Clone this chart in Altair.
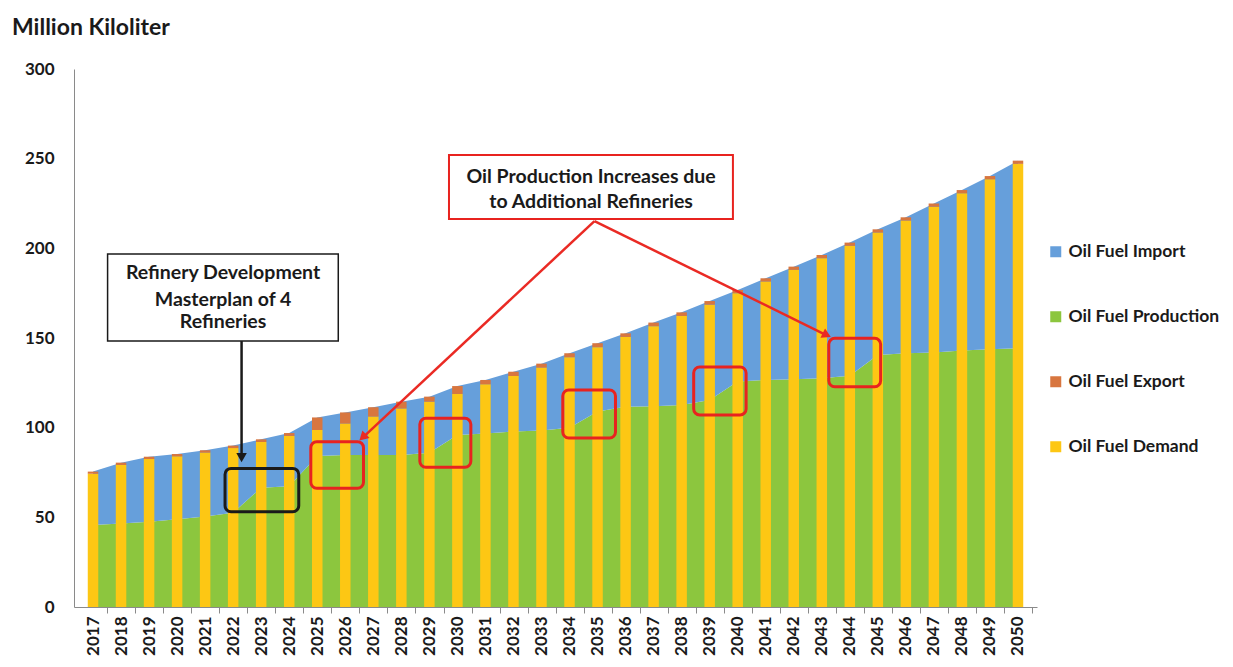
import altair as alt
import pandas as pd

# ---------------- data (million kiloliter) ----------------
years = list(range(2017, 2051))

demand = [74.3, 79.2, 82.5, 84.0, 86.1, 88.6, 92.0, 95.4, 98.7, 102.3,
          106.2, 110.7, 114.5, 118.8, 124.2, 128.8, 133.5, 139.3, 144.9, 150.6,
          156.6, 162.3, 168.6, 175.0, 181.5, 188.0, 194.5, 201.4, 208.8, 215.5,
          223.2, 230.7, 238.5, 247.1]

export = [1.2, 1.3, 1.3, 1.3, 1.3, 1.4, 1.5, 1.6, 7.0, 6.2,
          5.2, 3.8, 2.8, 4.4, 2.4, 2.4, 2.2, 2.2, 2.2, 2.0,
          2.0, 2.0, 2.0, 1.8, 1.8, 1.8, 1.8, 1.8, 1.8, 1.8,
          1.8, 1.8, 1.8, 1.8]

production = [45.7, 46.6, 47.6, 48.9, 50.4, 52.6, 66.5, 67.4, 84.2, 84.8,
              84.8, 84.8, 86.0, 95.9, 96.8, 97.8, 98.4, 100.0, 109.0, 111.7,
              111.9, 112.6, 115.4, 125.7, 126.6, 127.0, 127.5, 129.0, 140.5, 141.5,
              141.9, 143.0, 143.7, 144.3]

imports = [29.8, 33.9, 36.2, 36.4, 37.0, 37.4, 27.0, 29.6, 21.5, 23.7,
           26.6, 29.7, 31.3, 27.3, 29.8, 33.4, 37.3, 41.5, 38.1, 40.9,
           46.7, 51.7, 55.2, 51.1, 56.7, 62.8, 68.8, 74.2, 70.1, 75.8,
           83.1, 89.5, 96.6, 104.6]

series_names = ["Oil Fuel Import", "Oil Fuel Production", "Oil Fuel Export", "Oil Fuel Demand"]
series_colors = ["#669fdb", "#8cc63e", "#d8763f", "#fdc714"]

y_ticks = [0, 50, 100, 150, 200, 250, 300]
y_title = "Million Kiloliter"

# ---------------- tables ----------------
area_rows = []
for yr, p, im in zip(years, production, imports):
    area_rows.append({"year": yr, "series": "Oil Fuel Production", "lo": 0.0, "hi": p})
    area_rows.append({"year": yr, "series": "Oil Fuel Import", "lo": p, "hi": p + im})
area_df = pd.DataFrame(area_rows)

bar_rows = []
for yr, d, e in zip(years, demand, export):
    bar_rows.append({"year": yr, "series": "Oil Fuel Demand", "lo": 0.0, "hi": d})
    bar_rows.append({"year": yr, "series": "Oil Fuel Export", "lo": d, "hi": d + e})
bar_df = pd.DataFrame(bar_rows)

W, H = 963, 538
band = W / len(years)
FONT = "Lato"

xscale = alt.Scale(domain=[years[0] - 0.5, years[-1] + 0.5], nice=False, zero=False)
yscale = alt.Scale(domain=[0, 300], nice=False)

xaxis = alt.Axis(values=years, format="d", labelAngle=270, labelFont=FONT,
                 labelFontWeight="bold", labelFontSize=17, labelColor="#1a1a1a",
                 tickSize=6, tickColor="#8a8a8a", domainColor="#8a8a8a",
                 tickOffset=band / 2, labelOffset=-band / 2, labelPadding=3,
                 labelOverlap=False, labelFlush=False, grid=False, title=None)
yaxis = alt.Axis(values=y_ticks, labelFont=FONT, labelFontWeight="bold",
                 labelFontSize=17, labelColor="#1a1a1a", domainColor="#8a8a8a",
                 ticks=False, grid=False, title=None, labelPadding=20)


def X(f):
    return alt.X(f, type="quantitative", scale=xscale, axis=xaxis)


def Y(f):
    return alt.Y(f, type="quantitative", scale=yscale, axis=yaxis)


color = alt.Color("series:N",
                  scale=alt.Scale(domain=series_names, range=series_colors),
                  legend=alt.Legend(title=None, orient="none", legendX=973, legendY=174,
                                    direction="vertical", symbolType="square",
                                    symbolSize=121, symbolStrokeWidth=0,
                                    labelFont=FONT, labelFontWeight="bold",
                                    labelFontSize=17.5, labelColor="#1a1a1a",
                                    labelLimit=400, labelOffset=4, rowPadding=46,
                                    padding=0))

areas = alt.Chart(area_df).mark_area(opacity=1, interpolate="linear").encode(
    x=X("year"), y=Y("lo"), y2="hi", color=color)

bars = alt.Chart(bar_df).mark_bar(size=10.5).encode(
    x=X("year"), y=Y("lo"), y2="hi", color=color)

# ---------------- annotations (in data units) ----------------
black_box = pd.DataFrame([{"x0": 2017.52, "x1": 2025.75, "y0": 148.3, "y1": 196.8}])
red_box = pd.DataFrame([{"x0": 2029.70, "x1": 2039.83, "y0": 216.4, "y1": 252.0}])
black_focus = pd.DataFrame([{"x0": 2021.71, "x1": 2024.34, "y0": 53.1, "y1": 77.3}])
red_focus = pd.DataFrame([
    {"x0": 2024.77, "x1": 2026.65, "y0": 66.2, "y1": 92.2},
    {"x0": 2028.66, "x1": 2030.48, "y0": 77.9, "y1": 105.2},
    {"x0": 2033.76, "x1": 2035.64, "y0": 94.2, "y1": 121.0},
    {"x0": 2038.43, "x1": 2040.30, "y0": 107.1, "y1": 133.8},
    {"x0": 2043.25, "x1": 2045.10, "y0": 122.8, "y1": 149.8},
])


def boxes(df, stroke, sw, fill, radius):
    kw = dict(stroke=stroke, strokeWidth=sw, cornerRadius=radius)
    if fill is None:
        kw["fillOpacity"] = 0
        kw["fill"] = "white"
    else:
        kw["fill"] = fill
    return alt.Chart(df).mark_rect(**kw).encode(
        x=X("x0"), x2="x1", y=Y("y0"), y2="y1")


black_line = pd.DataFrame([{"x0": 2022.30, "y0": 148.3, "x1": 2022.30, "y1": 84.5}])
red_lines = pd.DataFrame([
    {"x0": 2034.89, "y0": 215.2, "x1": 2026.66, "y1": 95.0},
    {"x0": 2034.89, "y0": 215.2, "x1": 2043.14, "y1": 151.8},
])
black_head = pd.DataFrame([{"x": 2022.30, "y": 83.3, "ang": 180}])
red_heads = pd.DataFrame([
    {"x": 2026.62, "y": 94.6, "ang": 227},
    {"x": 2043.18, "y": 151.6, "ang": 116},
])


def lines(df, c, sw):
    return alt.Chart(df).mark_rule(color=c, strokeWidth=sw).encode(
        x=X("x0"), y=Y("y0"), x2="x1", y2="y1")


def heads(df, c, size):
    return alt.Chart(df).mark_point(shape="triangle-up", filled=True, color=c,
                                    size=size, opacity=1).encode(
        x=X("x"), y=Y("y"), angle=alt.Angle("ang:Q", scale=None))


black_text = pd.DataFrame([
    {"x": 2021.64, "y": 186.2, "t": "Refinery Development"},
    {"x": 2021.64, "y": 171.2, "t": "Masterplan of 4"},
    {"x": 2021.64, "y": 158.9, "t": "Refineries"},
])
red_text = pd.DataFrame([
    {"x": 2034.77, "y": 239.9, "t": "Oil Production Increases due"},
    {"x": 2034.77, "y": 226.0, "t": "to Additional Refineries"},
])


def texts(df):
    return alt.Chart(df).mark_text(font=FONT, fontWeight="bold", fontSize=19.5,
                                   color="#1a1a1a", align="center",
                                   baseline="middle").encode(
        x=X("x"), y=Y("y"), text="t:N")


title = alt.Chart(pd.DataFrame({"t": [y_title]})).mark_text(
    align="left", baseline="alphabetic", font=FONT, fontWeight="bold",
    fontSize=23, color="#1a1a1a").encode(
    x=alt.value(-62), y=alt.value(-34), text="t:N")

chart = alt.layer(
    areas, bars,
    boxes(black_box, "#1a1a1a", 1.5, "white", 0),
    boxes(red_box, "#e8231f", 2, "white", 0),
    boxes(black_focus, "#1a1a1a", 3, None, 6),
    boxes(red_focus, "#e8231f", 3, None, 6),
    lines(black_line, "#1a1a1a", 2.5),
    lines(red_lines, "#ea2a24", 2.5),
    heads(black_head, "#1a1a1a", 110),
    heads(red_heads, "#ea2a24", 110),
    texts(black_text), texts(red_text),
    title,
).properties(
    width=W, height=H,
    autosize=alt.AutoSizeParams(type="none"),
    padding={"left": 66, "top": 61, "right": 186, "bottom": 50},
    background="white",
).configure_view(stroke=None)

chart.save("out.html", embed_options={"renderer": "svg", "actions": False})
